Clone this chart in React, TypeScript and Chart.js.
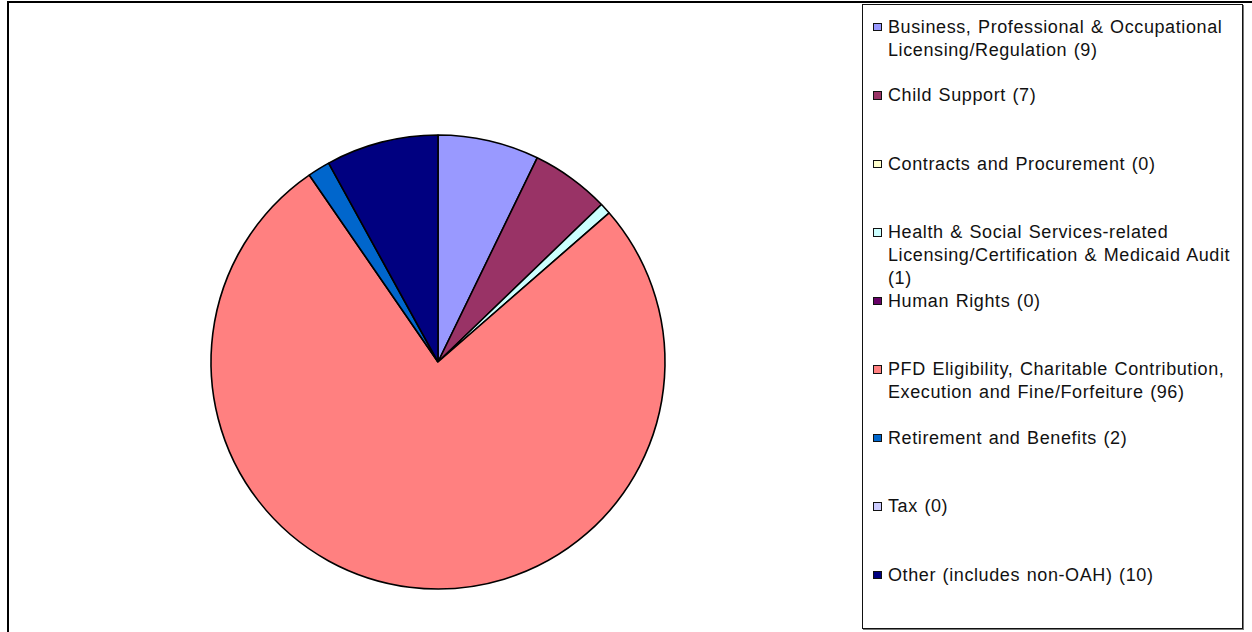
import React, { useEffect, useRef } from "react";
import { Chart, registerables } from "chart.js";

Chart.register(...registerables);

const categories = [
  "Business, Professional & Occupational Licensing/Regulation",
  "Child Support",
  "Contracts and Procurement",
  "Health & Social Services-related Licensing/Certification & Medicaid Audit",
  "Human Rights",
  "PFD Eligibility, Charitable Contribution, Execution and Fine/Forfeiture",
  "Retirement and Benefits",
  "Tax",
  "Other (includes non-OAH)",
];

const counts = [9, 7, 0, 1, 0, 96, 2, 0, 10];

const legendLines = [
  ["Business, Professional & Occupational", "Licensing/Regulation (9)"],
  ["Child Support (7)"],
  ["Contracts and Procurement (0)"],
  ["Health & Social Services-related", "Licensing/Certification & Medicaid Audit", "(1)"],
  ["Human Rights (0)"],
  ["PFD Eligibility, Charitable Contribution,", "Execution and Fine/Forfeiture (96)"],
  ["Retirement and Benefits (2)"],
  ["Tax (0)"],
  ["Other (includes non-OAH) (10)"],
];

const colors = [
  "#9999FF",
  "#993366",
  "#FFFFCC",
  "#CCFFFF",
  "#660066",
  "#FF8080",
  "#0066CC",
  "#CCCCFF",
  "#000080",
];

export default function App() {
  const canvasRef = useRef<HTMLCanvasElement | null>(null);

  useEffect(() => {
    if (!canvasRef.current) return;
    const chart = new Chart(canvasRef.current, {
      type: "pie",
      data: {
        labels: categories,
        datasets: [
          {
            data: counts,
            backgroundColor: colors,
            borderColor: "#000000",
            borderWidth: 1.6,
            radius: 227,
          },
        ],
      },
      options: {
        animation: false,
        responsive: false,
        maintainAspectRatio: false,
        layout: { padding: 0 },
        plugins: {
          legend: { display: false },
          tooltip: { enabled: false },
          title: { display: false },
        },
      },
    });
    return () => chart.destroy();
  }, []);

  const slot = 68.5;
  const lineH = 23;

  return (
    <div
      style={{
        position: "fixed",
        left: 0,
        top: 0,
        width: 1252,
        height: 632,
        background: "#fff",
        overflow: "hidden",
      }}
    >
      <div
        style={{
          position: "absolute",
          left: 7,
          top: 1,
          width: 1260,
          height: 650,
          border: "2px solid #000",
          boxSizing: "border-box",
        }}
      />
      <canvas
        ref={canvasRef}
        width={470}
        height={470}
        style={{ position: "absolute", left: 203, top: 127, width: 470, height: 470 }}
      />
      <div
        style={{
          position: "absolute",
          left: 862,
          top: 4,
          width: 381,
          height: 625,
          border: "1px solid #111",
          boxShadow: "1px 1px 0 #777",
          boxSizing: "border-box",
          fontFamily: "'Liberation Sans', Arial, sans-serif",
          fontSize: 18,
          letterSpacing: "0.6px",
          wordSpacing: "1px",
          color: "#111",
        }}
      >
        {legendLines.map((lines, i) => (
          <div
            key={i}
            style={{
              position: "absolute",
              left: 0,
              top: 27 + i * slot - lineH / 2 - 5,
              width: 379,
            }}
          >
            <div
              style={{
                position: "absolute",
                left: 10,
                top: lineH / 2 - 4.5,
                width: 6.5,
                height: 6.5,
                border: "1.5px solid #111",
                background: colors[i],
              }}
            />
            {lines.map((ln, j) => (
              <div
                key={j}
                style={{
                  position: "absolute",
                  left: 25,
                  top: j * lineH,
                  height: lineH,
                  lineHeight: lineH + "px",
                  whiteSpace: "pre",
                }}
              >
                {ln}
              </div>
            ))}
          </div>
        ))}
      </div>
    </div>
  );
}
